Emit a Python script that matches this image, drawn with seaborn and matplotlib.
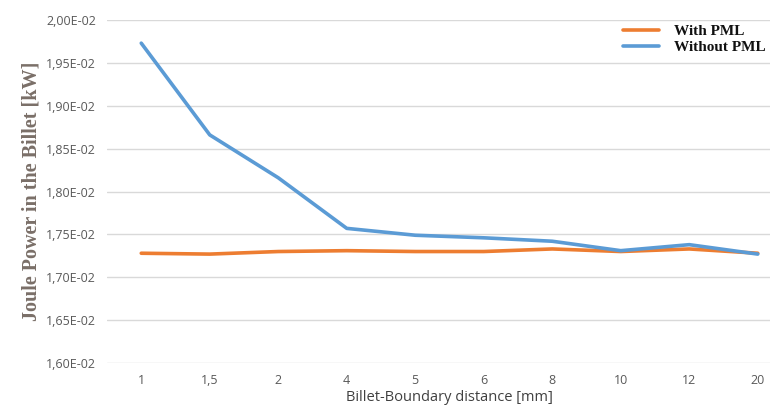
import numpy as np
import pandas as pd
import matplotlib
matplotlib.use('Agg')
import matplotlib.pyplot as plt
import seaborn as sns
from matplotlib.ticker import FuncFormatter, MultipleLocator

distances = ['1', '1,5', '2', '4', '5', '6', '8', '10', '12', '20']
with_pml = [1.728e-2, 1.727e-2, 1.730e-2, 1.731e-2, 1.730e-2, 1.730e-2, 1.733e-2, 1.730e-2, 1.733e-2, 1.728e-2]
without_pml = [1.973e-2, 1.866e-2, 1.816e-2, 1.757e-2, 1.749e-2, 1.746e-2, 1.742e-2, 1.731e-2, 1.738e-2, 1.727e-2]

df = pd.DataFrame({
    'distance': distances * 2,
    'power': with_pml + without_pml,
    'series': ['With PML'] * len(distances) + ['Without PML'] * len(distances),
})

sns.set_style('white')
fig = plt.figure(figsize=(7.7, 4.17), dpi=100)
ax = fig.add_axes([107 / 770, 1 - 363 / 417, 685 / 770, 343 / 417])

sns.lineplot(data=df, x='distance', y='power', hue='series', sort=False,
             palette={'With PML': '#ED7D31', 'Without PML': '#5B9BD5'},
             linewidth=2.6, ax=ax)

ax.set_xlim(-0.5, 9.5)
ax.set_ylim(0.016, 0.020)
ax.yaxis.set_major_locator(MultipleLocator(0.0005))
ax.yaxis.set_major_formatter(FuncFormatter(lambda v, p: f'{v * 100:.2f}E-02'.replace('.', ',')))
ax.grid(axis='y', color='#d9d9d9', linewidth=1)
ax.grid(axis='x', visible=False)
for s in ax.spines.values():
    s.set_visible(False)
ax.tick_params(axis='both', length=0, labelsize=9, colors='#595959', pad=8)
for t in ax.get_xticklabels() + ax.get_yticklabels():
    t.set_family('Open Sans')

ax.set_xlabel('Billet-Boundary distance [mm]', family='Open Sans', fontsize=10.5,
              color='#404040', labelpad=2)
ax.set_ylabel('Joule Power in the Billet [kW]', family='Liberation Serif', fontsize=14.5,
              fontweight='bold', color='#7a6f68', labelpad=3)

leg = ax.legend(loc='upper right', bbox_to_anchor=(0.998, 0.948), bbox_transform=fig.transFigure,
                frameon=False, handlelength=2.3, handletextpad=1.0, labelspacing=0.15,
                borderaxespad=0, borderpad=0.2,
                prop={'family': 'Liberation Serif', 'weight': 'bold', 'size': 11})
for t in leg.get_texts():
    t.set_color('#111111')

fig.savefig('out.png', dpi=100)
